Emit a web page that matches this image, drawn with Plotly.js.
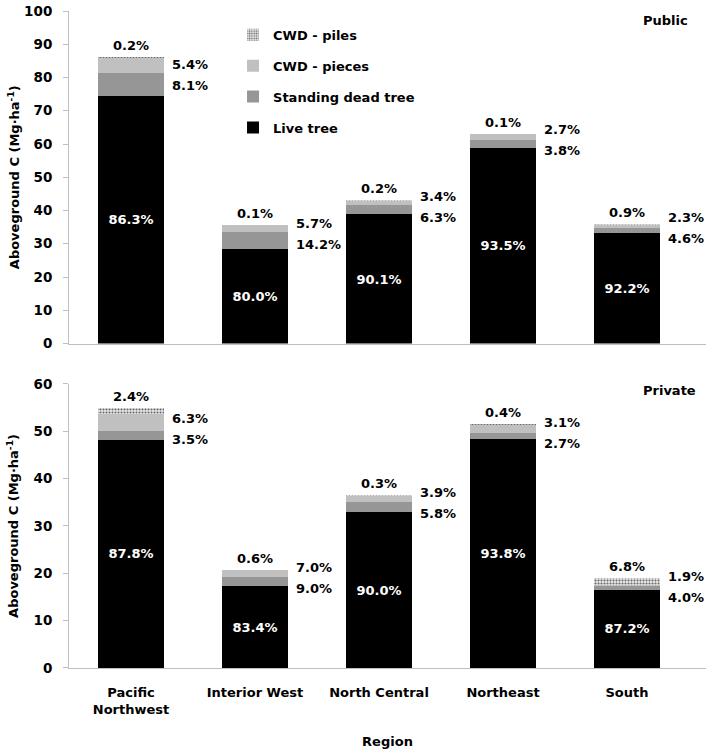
<!DOCTYPE html>
<html>
<head>
<meta charset="utf-8">
<script src="https://cdn.plot.ly/plotly-3.0.1.min.js"></script>
<style>html,body{margin:0;padding:0;background:#fff;}#chart{width:726px;height:755px;}</style>
</head>
<body>
<div id="chart"></div>
<script>
// ---- Data ----
const regions = ['Pacific<br>Northwest', 'Interior West', 'North Central', 'Northeast', 'South'];
const seriesNames = ['Live tree', 'Standing dead tree', 'CWD - pieces', 'CWD - piles'];

// Public (Mg·ha-1)
const pubLive     = [74.3, 28.5, 38.8, 58.9, 33.2];
const pubStanding = [6.97, 5.06, 2.71, 2.39, 1.66];
const pubPieces   = [4.65, 2.03, 1.46, 1.70, 0.83];
const pubPiles    = [0.17, 0.04, 0.09, 0.06, 0.32];
const pubLivePct     = ['86.3%', '80.0%', '90.1%', '93.5%', '92.2%'];
const pubStandingPct = ['8.1%', '14.2%', '6.3%', '3.8%', '4.6%'];
const pubPiecesPct   = ['5.4%', '5.7%', '3.4%', '2.7%', '2.3%'];
const pubPilesPct    = ['0.2%', '0.1%', '0.2%', '0.1%', '0.9%'];

// Private (Mg·ha-1)
const privLive     = [48.2, 17.3, 32.9, 48.3, 16.5];
const privStanding = [1.92, 1.87, 2.12, 1.39, 0.76];
const privPieces   = [3.46, 1.46, 1.42, 1.60, 0.36];
const privPiles    = [1.32, 0.12, 0.11, 0.21, 1.29];
const privLivePct     = ['87.8%', '83.4%', '90.0%', '93.8%', '87.2%'];
const privStandingPct = ['3.5%', '9.0%', '5.8%', '2.7%', '4.0%'];
const privPiecesPct   = ['6.3%', '7.0%', '3.9%', '3.1%', '1.9%'];
const privPilesPct    = ['2.4%', '0.6%', '0.3%', '0.4%', '6.8%'];

// ---- Styles ----
const FONT = 'DejaVu Sans';
const boldFont = (size, color) => ({family: FONT, size: size, color: color || '#000', weight: 'bold'});
const colors = {live: '#000000', standing: '#969696', pieces: '#c0c0c0'};
const pilesPattern = {shape: '.', fgcolor: '#666666', bgcolor: '#ececec', size: 3, solidity: 0.4};

const W = 726, H = 755;
const margin = {l: 69, r: 20, t: 11, b: 87};
const topDomain = [0.4939, 1];
const botDomain = [0, 0.4323];
const topRange = [0, 100];
const botRange = [0, 60];
const plotH = H - margin.t - margin.b;

function makeTraces(live, standing, pieces, piles, livePct, xa, ya, showLegend) {
  const common = {type: 'bar', x: regions, xaxis: xa, yaxis: ya, showlegend: showLegend, hoverinfo: 'skip'};
  return [
    Object.assign({}, common, {
      name: seriesNames[0], y: live, legendgroup: 'g0', legendrank: 4,
      marker: {color: colors.live, line: {width: 0}},
      text: livePct, textposition: 'inside', insidetextanchor: 'middle', textangle: 0,
      constraintext: 'none', textfont: boldFont(13, '#ffffff')
    }),
    Object.assign({}, common, {
      name: seriesNames[1], y: standing, legendgroup: 'g1', legendrank: 3,
      marker: {color: colors.standing, line: {width: 0}}
    }),
    Object.assign({}, common, {
      name: seriesNames[2], y: pieces, legendgroup: 'g2', legendrank: 2,
      marker: {color: colors.pieces, line: {width: 0}}
    }),
    Object.assign({}, common, {
      name: seriesNames[3], y: piles, legendgroup: 'g3', legendrank: 1,
      marker: {color: '#ececec', pattern: pilesPattern, line: {width: 0}}
    })
  ];
}

const data = []
  .concat(makeTraces(pubLive, pubStanding, pubPieces, pubPiles, pubLivePct, 'x', 'y', true))
  .concat(makeTraces(privLive, privStanding, privPieces, privPiles, privLivePct, 'x2', 'y2', false));

// ---- Percent annotations ----
function makeLabels(live, standing, pieces, piles, standPct, piecesPct, pilesPct, xref, yref, domain, range) {
  const k = (domain[1] - domain[0]) * plotH / (range[1] - range[0]); // px per unit
  const minSep = 21;
  const anns = [];
  regions.forEach((r, i) => {
    const cS = live[i] + standing[i] / 2;
    const cP = live[i] + standing[i] + pieces[i] / 2;
    const sep = (cP - cS) * k;
    let yS = cS, yP = cP, shS = 0, shP = 0;
    if (sep < minSep) {
      const mid = (cS + cP) / 2;
      yS = mid; yP = mid; shS = -minSep / 2; shP = minSep / 2;
    }
    const base = {xref: xref, yref: yref, x: r, showarrow: false, font: boldFont(13), xanchor: 'left', yanchor: 'middle', xshift: 39};
    anns.push(Object.assign({}, base, {y: yS, yshift: shS, text: standPct[i]}));
    anns.push(Object.assign({}, base, {y: yP, yshift: shP, text: piecesPct[i]}));
    const total = live[i] + standing[i] + pieces[i] + piles[i];
    anns.push({xref: xref, yref: yref, x: r, y: total, showarrow: false, font: boldFont(13),
      xanchor: 'center', yanchor: 'bottom', yshift: 2, text: pilesPct[i]});
  });
  return anns;
}

const annotations = []
  .concat(makeLabels(pubLive, pubStanding, pubPieces, pubPiles, pubStandingPct, pubPiecesPct, pubPilesPct, 'x', 'y', topDomain, topRange))
  .concat(makeLabels(privLive, privStanding, privPieces, privPiles, privStandingPct, privPiecesPct, privPilesPct, 'x2', 'y2', botDomain, botRange));

annotations.push({xref: 'paper', yref: 'paper', x: 0.898, y: 0.986, xanchor: 'left', yanchor: 'middle',
  showarrow: false, text: 'Public', font: boldFont(13)});
annotations.push({xref: 'paper', yref: 'paper', x: 0.898, y: 0.423, xanchor: 'left', yanchor: 'middle',
  showarrow: false, text: 'Private', font: boldFont(13)});

const yTitle = 'Aboveground C (Mg·ha<sup>-1</sup>)';
const axisLine = '#bfbfbf';

const layout = {
  width: W, height: H, margin: margin,
  paper_bgcolor: '#ffffff', plot_bgcolor: '#ffffff',
  barmode: 'stack', bargap: 0.475,
  font: boldFont(13),
  showlegend: true,
  legend: {
    x: 0.2575, y: 0.9866, xanchor: 'left', yanchor: 'top',
    traceorder: 'grouped', tracegroupgap: 11,
    font: boldFont(13), bgcolor: 'rgba(0,0,0,0)', borderwidth: 0
  },
  xaxis: {
    domain: [0, 1], anchor: 'y', type: 'category', showticklabels: false,
    showline: true, linecolor: axisLine, linewidth: 1, ticks: '', showgrid: false, zeroline: false, fixedrange: true
  },
  yaxis: {
    domain: topDomain, anchor: 'x', range: topRange, dtick: 10, tick0: 0,
    showline: true, linecolor: axisLine, linewidth: 1, ticks: 'outside', ticklen: 5, tickcolor: axisLine,
    showgrid: false, zeroline: false, tickfont: boldFont(13.5), ticklabelstandoff: 8,
    title: {text: yTitle, font: boldFont(13), standoff: 1}
  },
  xaxis2: {
    domain: [0, 1], anchor: 'y2', type: 'category',
    showline: true, linecolor: axisLine, linewidth: 1, ticks: '', showgrid: false, zeroline: false,
    tickfont: boldFont(13), ticklabelstandoff: 12,
    title: {text: 'Region', font: boldFont(13), standoff: 21}
  },
  yaxis2: {
    domain: botDomain, anchor: 'x2', range: botRange, dtick: 10, tick0: 0,
    showline: true, linecolor: axisLine, linewidth: 1, ticks: 'outside', ticklen: 5, tickcolor: axisLine,
    showgrid: false, zeroline: false, tickfont: boldFont(13.5), ticklabelstandoff: 8,
    title: {text: yTitle, font: boldFont(13), standoff: 11}
  },
  annotations: annotations
};

Plotly.newPlot('chart', data, layout, {staticPlot: true, displayModeBar: false});
</script>
</body>
</html>
